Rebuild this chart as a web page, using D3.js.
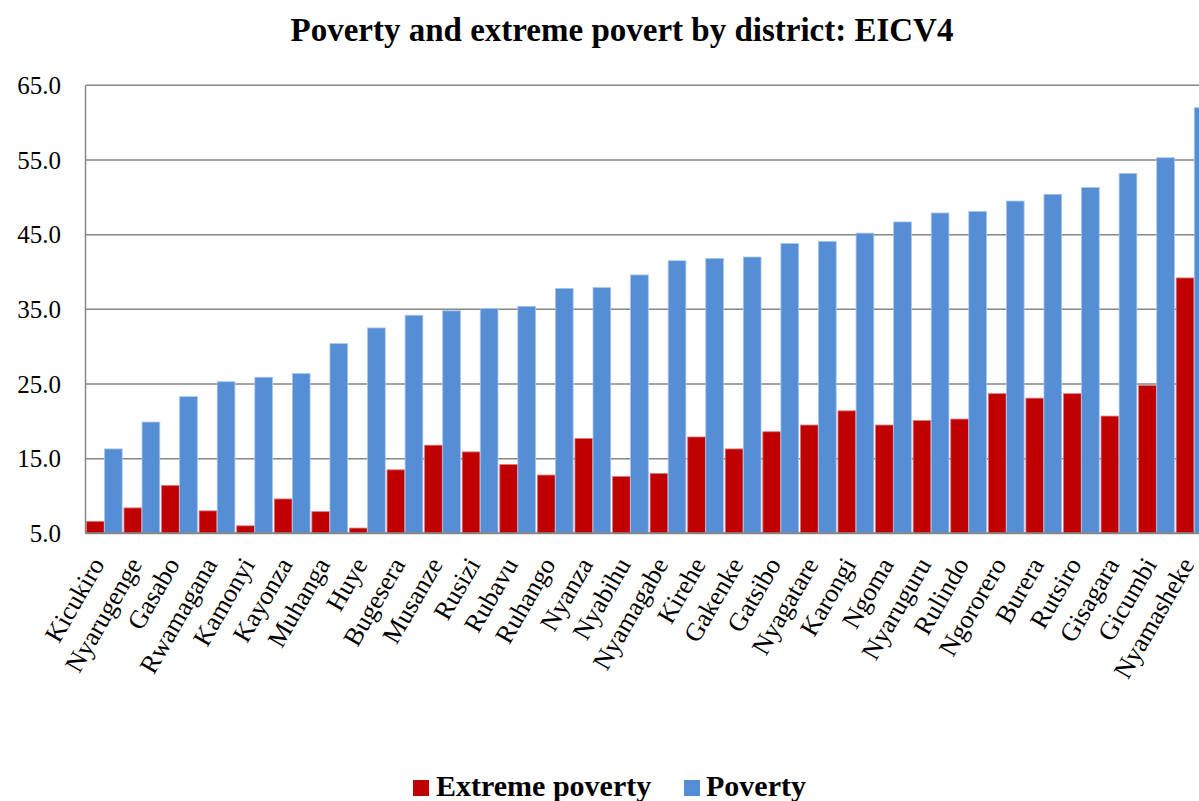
<!DOCTYPE html>
<html>
<head>
<meta charset="utf-8">
<script src="https://cdn.jsdelivr.net/npm/d3@7"></script>
<style>
  html, body { margin: 0; padding: 0; background: #fff; overflow: hidden; }
  svg { display: block; }
</style>
</head>
<body>
<svg id="chart" width="1199" height="801"></svg>
<script>
const districts = ["Kicukiro","Nyarugenge","Gasabo","Rwamagana","Kamonyi","Kayonza","Muhanga","Huye","Bugesera","Musanze","Rusizi","Rubavu","Ruhango","Nyanza","Nyabihu","Nyamagabe","Kirehe","Gakenke","Gatsibo","Nyagatare","Karongi","Ngoma","Nyaruguru","Rulindo","Ngororero","Burera","Rutsiro","Gisagara","Gicumbi","Nyamasheke"];
const extremePoverty = [6.6,8.4,11.4,8.0,6.0,9.6,7.9,5.7,13.5,16.8,15.9,14.2,12.8,17.7,12.6,13.0,17.9,16.3,18.6,19.5,21.4,19.5,20.1,20.3,23.7,23.1,23.7,20.7,24.8,39.2];
const poverty = [16.3,19.9,23.3,25.3,25.9,26.4,30.4,32.5,34.2,34.8,35.1,35.4,37.8,37.9,39.6,41.5,41.8,42.0,43.8,44.1,45.2,46.7,47.9,48.1,49.5,50.4,51.3,53.2,55.3,62.0];
const yTicks = [5,15,25,35,45,55,65];
const seriesNames = ["Extreme poverty","Poverty"];
const seriesColors = ["#C00000","#558ED5"];

const svg = d3.select("#chart");
const x0 = 85.5, step = 37.58;
const x1 = x0 + step * districts.length;
const yTop = 85.3, yBot = 533.3;
const font = "'Liberation Serif', 'Times New Roman', serif";

const x = d3.scaleBand().domain(districts).range([x0, x1]).paddingInner(0).paddingOuter(0);
const sub = d3.scaleBand().domain(seriesNames).range([0, x.bandwidth()]).paddingInner(0.02).paddingOuter(0.05);
const y = d3.scaleLinear().domain([5, 65]).range([yBot, yTop]);

// gridlines
svg.append("g").selectAll("line").data(yTicks).join("line")
  .attr("x1", x0).attr("x2", 1199)
  .attr("y1", d => y(d)).attr("y2", d => y(d))
  .attr("stroke", "#868686").attr("stroke-width", 1.5);

// left axis line
svg.append("line").attr("x1", x0).attr("x2", x0).attr("y1", yTop).attr("y2", yBot)
  .attr("stroke", "#868686").attr("stroke-width", 1.5);

// y tick labels
svg.append("g").selectAll("text").data(yTicks).join("text")
  .attr("x", 61).attr("y", d => y(d))
  .attr("dy", "0.35em")
  .attr("text-anchor", "end")
  .style("font-family", font).style("font-size", "25px").attr("fill", "#000")
  .text(d => d.toFixed(1));

// bars
const data = districts.map((d, i) => ({ district: d, values: [extremePoverty[i], poverty[i]] }));
const groups = svg.append("g").selectAll("g").data(data).join("g")
  .attr("transform", d => `translate(${x(d.district)},0)`);
groups.selectAll("rect").data(d => d.values.map((v, j) => ({ v, j }))).join("rect")
  .attr("x", d => sub(seriesNames[d.j]))
  .attr("width", sub.bandwidth())
  .attr("y", d => y(d.v))
  .attr("height", d => yBot - y(d.v))
  .attr("fill", d => seriesColors[d.j])
  .attr("stroke", d => d.j === 1 ? "#a9c4ea" : "#d9777a")
  .attr("stroke-width", 0.8);

// bottom axis line
svg.append("line").attr("x1", x0).attr("x2", 1199).attr("y1", yBot).attr("y2", yBot)
  .attr("stroke", "#868686").attr("stroke-width", 2);

// x labels
svg.append("g").selectAll("text").data(districts).join("text")
  .attr("transform", d => `translate(${x(d) + x.bandwidth() / 2 + 1},${yBot + 31}) rotate(-60)`)
  .attr("text-anchor", "end")
  .style("font-family", font).style("font-size", "26px").attr("fill", "#000")
  .text(d => d);

// title
svg.append("text").attr("x", 622).attr("y", 41)
  .attr("text-anchor", "middle")
  .style("font-family", font).style("font-size", "33px").style("font-weight", "bold")
  .text("Poverty and extreme povert by district: EICV4");

// legend
const legendItems = [
  { name: seriesNames[0], color: seriesColors[0], sx: 413, tx: 436 },
  { name: seriesNames[1], color: seriesColors[1], sx: 684, tx: 706 }
];
const lg = svg.append("g");
lg.selectAll("rect").data(legendItems).join("rect")
  .attr("x", d => d.sx).attr("y", 780).attr("width", 16).attr("height", 16)
  .attr("fill", d => d.color);
lg.selectAll("text").data(legendItems).join("text")
  .attr("x", d => d.tx).attr("y", 796)
  .style("font-family", font).style("font-size", "30px").style("font-weight", "bold")
  .text(d => d.name);
</script>
</body>
</html>
